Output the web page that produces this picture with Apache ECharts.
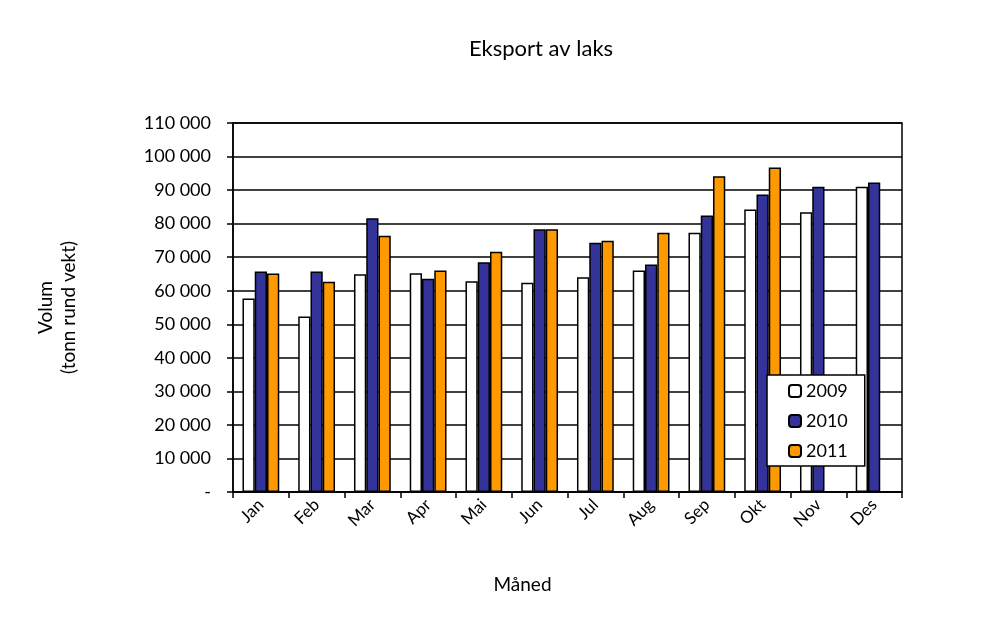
<!DOCTYPE html>
<html><head><meta charset="utf-8">
<script src="https://cdn.jsdelivr.net/npm/echarts@6/dist/echarts.min.js"></script>
<style>html,body{margin:0;padding:0;background:#fff}#c{width:985px;height:639px}</style>
</head><body><div id="c"></div>
<script>
const months = ["Jan","Feb","Mar","Apr","Mai","Jun","Jul","Aug","Sep","Okt","Nov","Des"];
const v2009 = [57700,52300,64900,65200,62800,62400,64000,66000,77300,84200,83400,91000];
const v2010 = [65700,65700,81600,63600,68500,78300,74300,67800,82400,88700,91000,92300];
const v2011 = [65100,62700,76400,66000,71600,78300,74900,77300,94100,96700,null,null];
const yTicks = {min:0, max:110000, interval:10000};

const FONT = "Lato, 'Noto Sans', sans-serif";
const chart = echarts.init(document.getElementById('c'), null, {renderer:'canvas'});
function fmt(v){ if(v===0) return '-'; return String(v).replace(/\B(?=(\d{3})+(?!\d))/g,' '); }
const border = {borderColor:'#000', borderWidth:1.5};
chart.setOption({
  animation:false,
  backgroundColor:'#fff',
  title:{text:'Eksport av laks', left:536, top:33, textAlign:'center',
    textStyle:{fontFamily:FONT, fontSize:22, fontWeight:'normal', color:'#000'}},
  grid:{left:233, top:123, right:83, bottom:147, show:true, borderColor:'#000', borderWidth:1.5},
  legend:{orient:'vertical', left:767, top:375,
    backgroundColor:'#fff', borderColor:'#000', borderWidth:1.5,
    padding:[7,17,6,21], itemWidth:12, itemHeight:12, itemGap:12,
    textStyle:{fontFamily:FONT, fontSize:18, color:'#000'},
    data:['2009','2010','2011']},
  xAxis:{type:'category', data:months,
    axisLine:{lineStyle:{color:'#000', width:1.5}},
    axisTick:{show:true, alignWithLabel:false, length:6, lineStyle:{color:'#000', width:1.5}},
    axisLabel:{rotate:45, fontFamily:FONT, fontSize:17, color:'#000', margin:10},
    name:'Måned', nameLocation:'middle', nameGap:83,
    nameTextStyle:{fontFamily:FONT, fontSize:19, color:'#000', padding:[0,90,0,0]}},
  yAxis:{type:'value', min:yTicks.min, max:yTicks.max, interval:yTicks.interval,
    axisLine:{show:true, lineStyle:{color:'#000', width:1.5}},
    axisTick:{show:true, length:6, lineStyle:{color:'#000', width:1.5}},
    splitLine:{show:true, lineStyle:{color:'#000', width:1.5}},
    axisLabel:{formatter:fmt, fontFamily:FONT, fontSize:18, color:'#000', margin:22},
    name:'Volum\n(tonn rund vekt)', nameLocation:'middle', nameGap:153, nameRotate:90,
    nameTextStyle:{fontFamily:FONT, fontSize:19, color:'#000', lineHeight:23}},
  series:[
    {name:'2009', type:'bar', data:v2009, barGap:'0%', barCategoryGap:'34%', itemStyle:Object.assign({color:'#fff'},border)},
    {name:'2010', type:'bar', data:v2010, barGap:'0%', barCategoryGap:'34%', itemStyle:Object.assign({color:'#333399'},border)},
    {name:'2011', type:'bar', data:v2011, barGap:'0%', barCategoryGap:'34%', itemStyle:Object.assign({color:'#FF9900'},border)}
  ]
});
</script></body></html>
